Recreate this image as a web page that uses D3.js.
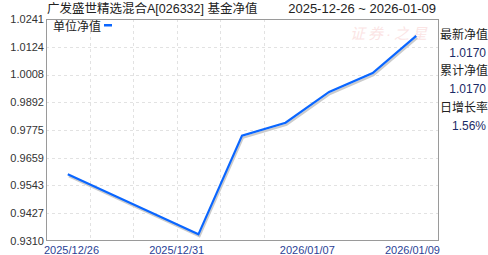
<!DOCTYPE html>
<meta charset="utf-8">
<title>基金净值</title>
<style>
    body { margin: 0; background: #fff; }
    svg { display: block; }
    text { font-family: "Liberation Sans", Arial, "Noto Sans CJK SC", sans-serif; }
    .grid line { stroke: #e2e2e2; stroke-dasharray: 3,3; }
</style>

<svg width="488" height="255"></svg>

<script src="https://d3js.org/d3.v7.min.js"></script>
<script>

    // data
    var dates = ["2025/12/26", "2025/12/29", "2025/12/30", "2025/12/31", "2026/01/05",
                 "2026/01/06", "2026/01/07", "2026/01/08", "2026/01/09"];
    var nav = [0.9590, 0.9506, 0.9422, 0.9338, 0.9752, 0.9806, 0.9935, 1.0014, 1.0170];
    var yTicks = [0.9310, 0.9427, 0.9543, 0.9659, 0.9775, 0.9892, 1.0008, 1.0124, 1.0241];
    var xTickLabels = ["2025/12/26", "2025/12/31", "2026/01/07", "2026/01/09"];
    var infoLabels = ["最新净值", "1.0170", "累计净值", "1.0170", "日增长率", "1.56%"];

    var svg = d3.select("svg"),
        margin = { top: 19, right: 50, bottom: 14, left: 46 },
        width = +svg.attr("width") - margin.left - margin.right,
        height = +svg.attr("height") - margin.top - margin.bottom;

    var x = d3.scalePoint()
        .domain(dates)
        .range([0, width])
        .padding(0.5);

    var y = d3.scaleLinear()
        .domain([yTicks[0], yTicks[yTicks.length - 1]])
        .range([height, 0]);

    var g = svg.append("g")
        .attr("transform", "translate(" + margin.left + "," + margin.top + ")");

    // title
    svg.append("text")
        .attr("x", 47)
        .attr("y", 13)
        .attr("font-size", "12.5px")
        .attr("fill", "#222")
        .text("广发盛世精选混合A[026332] 基金净值");

    svg.append("text")
        .attr("x", margin.left + width - 2)
        .attr("y", 13)
        .attr("text-anchor", "end")
        .attr("font-size", "13px")
        .attr("fill", "#222")
        .text(dates[0].replace(/\//g, "-") + " ~ " + dates[dates.length - 1].replace(/\//g, "-"));

    // grid
    var grid = g.append("g").attr("class", "grid");
    grid.selectAll("line.h")
        .data(yTicks.slice(1, -1))
        .enter().append("line")
        .attr("x1", 0).attr("x2", width)
        .attr("y1", function (d) { return Math.round(y(d)) + 0.5; })
        .attr("y2", function (d) { return Math.round(y(d)) + 0.5; });

    // only the first few column lines are drawn in the original
    grid.selectAll("line.v")
        .data(d3.range(1, 6))
        .enter().append("line")
        .attr("y1", 0).attr("y2", height)
        .attr("x1", function (i) { return Math.round(i * x.step()) + 0.5; })
        .attr("x2", function (i) { return Math.round(i * x.step()) + 0.5; });

    // watermark
    g.append("text")
        .attr("x", width - 8)
        .attr("y", 20)
        .attr("text-anchor", "end")
        .attr("font-size", "15px")
        .attr("font-style", "italic")
        .attr("letter-spacing", "3px")
        .attr("fill", "#f7c4c4")
        .attr("opacity", 0.45)
        .text("证券·之星");

    // frame
    g.append("rect")
        .attr("x", 0.5).attr("y", 0.5)
        .attr("width", width).attr("height", height - 1)
        .attr("fill", "none")
        .attr("stroke", "#9a9a9a");

    // y labels
    g.selectAll("text.ytick")
        .data(yTicks)
        .enter().append("text")
        .attr("x", -2)
        .attr("y", function (d) { return y(d); })
        .attr("dy", "0.35em")
        .attr("text-anchor", "end")
        .attr("font-size", "11px")
        .attr("fill", "#333")
        .text(function (d) { return d.toFixed(4); });

    // x labels: spread across the width, end ones kept inside
    g.selectAll("text.xtick")
        .data(xTickLabels)
        .enter().append("text")
        .attr("x", function (d, i) {
            var n = xTickLabels.length - 1;
            return i === 0 ? -2 : (i === n ? width + 2 : width * i / n);
        })
        .attr("y", height + 13)
        .attr("text-anchor", function (d, i) {
            return i === 0 ? "start" : (i === xTickLabels.length - 1 ? "end" : "middle");
        })
        .attr("font-size", "11px")
        .attr("fill", "#2a3f96")
        .text(function (d) { return d; });

    var line = d3.line()
        .x(function (d, i) { return x(dates[i]); })
        .y(function (d) { return y(d); });

    // shadow then line
    g.append("path")
        .datum(nav)
        .attr("transform", "translate(1,2)")
        .attr("fill", "none")
        .attr("stroke", "#cccccc")
        .attr("stroke-width", 2.2)
        .attr("d", line);

    g.append("path")
        .datum(nav)
        .attr("fill", "none")
        .attr("stroke", "#0a66ff")
        .attr("stroke-width", 2.2)
        .attr("stroke-linejoin", "miter")
        .attr("d", line);

    // legend
    g.append("text")
        .attr("x", 7)
        .attr("y", 8)
        .attr("dy", "0.35em")
        .attr("font-size", "12px")
        .attr("fill", "#222")
        .text("单位净值");
    g.append("rect")
        .attr("x", 58).attr("y", 5)
        .attr("width", 8).attr("height", 2.5)
        .attr("fill", "#0a66ff");

    // info panel on the right
    svg.selectAll("text.info")
        .data(infoLabels)
        .enter().append("text")
        .attr("x", function (d, i) { return i % 2 === 0 ? 440 : 486; })
        .attr("y", function (d, i) { return 34.5 + i * 18.2; })
        .attr("dy", "0.35em")
        .attr("text-anchor", function (d, i) { return i % 2 === 0 ? "start" : "end"; })
        .attr("font-size", "12px")
        .attr("fill", function (d, i) { return i % 2 === 0 ? "#222" : "#1a2a66"; })
        .text(function (d) { return d; });

</script>
